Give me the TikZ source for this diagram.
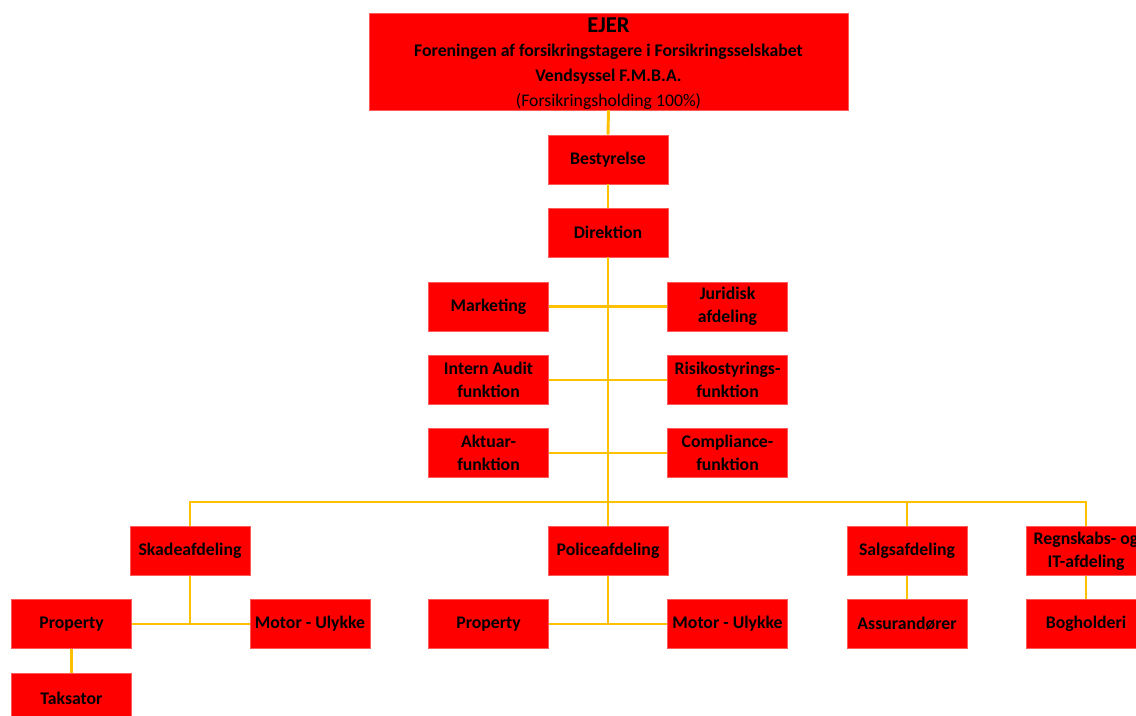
\documentclass[tikz,border=0pt]{standalone}
\usepackage{fontspec}
\setmainfont{Carlito}
\definecolor{boxred}{RGB}{255,0,0}
\definecolor{boxedge}{RGB}{255,90,90}
\definecolor{lineor}{RGB}{255,192,0}
\begin{document}
\begin{tikzpicture}[x=0.75pt,y=-0.75pt,
  unit/.style={fill=boxred,draw=boxedge,line width=0.4pt,minimum width=90pt,minimum height=37pt,
    inner sep=0pt,align=center,text=black,font=\bfseries\fontsize{13.3}{17.25}\selectfont},
  topline/.style={inner sep=0pt,text=black,font=\bfseries\fontsize{13.3}{16}\selectfont},
  conn/.style={draw=lineor,line width=2.2pt}]
\clip (0,0) rectangle (1136,716);
\fill[white] (0,0) rectangle (1136,716);
% nodes
\node[unit,minimum width=359pt,minimum height=72.5pt] (ejer) at (608.5,61.5) {};
\node[topline,font=\bfseries\fontsize{17}{20}\selectfont] (l1) at (608.5,25.5) {EJER};
\node[topline] (l2) at (608.5,51.5) {Foreningen af forsikringstagere i Forsikringsselskabet};
\node[topline] (l3) at (608.5,76.5) {Vendsyssel F.M.B.A.};
\node[topline,font=\mdseries\fontsize{13.3}{16}\selectfont] (l4) at (608.5,101.5) {(Forsikringsholding 100\%)};
\node[unit] (best) at (608,159.5) {Bestyrelse};
\node[unit] (dir) at (608,232.5) {Direktion};
\node[unit] (mark) at (488.5,306.5) {Marketing};
\node[unit] (jur) at (727.5,306.5) {Juridisk\\afdeling};
\node[unit] (audit) at (488.5,380) {Intern Audit\\funktion};
\node[unit] (risk) at (727.5,380) {Risikostyrings-\\funktion};
\node[unit] (akt) at (488.5,453) {Aktuar-\\funktion};
\node[unit] (comp) at (727.5,453) {Compliance-\\funktion};
\node[unit] (skade) at (190,551) {Skadeafdeling};
\node[unit] (police) at (608,551) {Policeafdeling};
\node[unit] (salg) at (907,551) {Salgsafdeling};
\node[unit] (regn) at (1086,551) {Regnskabs- og\\IT-afdeling};
\node[unit] (prop1) at (71.5,624) {Property};
\node[unit] (mot1) at (310,624) {Motor - Ulykke};
\node[unit] (taks) at (71.5,698) {Taksator};
\node[unit] (prop2) at (488.5,624) {Property};
\node[unit] (mot2) at (727.5,624) {Motor - Ulykke};
\node[unit] (assur) at (907,624) {Assurandører};
\node[unit] (bogh) at (1086,624) {Bogholderi};
\coordinate (bus) at (608,502);
% connectors
\draw[conn] (ejer.south) -- (best.north);
\draw[conn] (best.south) -- (dir.north);
\draw[conn] (dir.south) -- (police.north);
\draw[conn] (mark.east) -- (jur.west);
\draw[conn] (audit.east) -- (risk.west);
\draw[conn] (akt.east) -- (comp.west);
\draw[conn] (skade.north) -- (skade.north |- bus) -- (regn.north |- bus) -- (regn.north);
\draw[conn] (salg.north) -- (salg.north |- bus);
\draw[conn] (skade.south) -- (skade.south |- prop1.east);
\draw[conn] (prop1.east) -- (mot1.west);
\draw[conn] (police.south) -- (police.south |- prop2.east);
\draw[conn] (prop2.east) -- (mot2.west);
\draw[conn] (prop1.south) -- (taks.north);
\draw[conn] (salg.south) -- (assur.north);
\draw[conn] (regn.south) -- (bogh.north);
\end{tikzpicture}
\end{document}
